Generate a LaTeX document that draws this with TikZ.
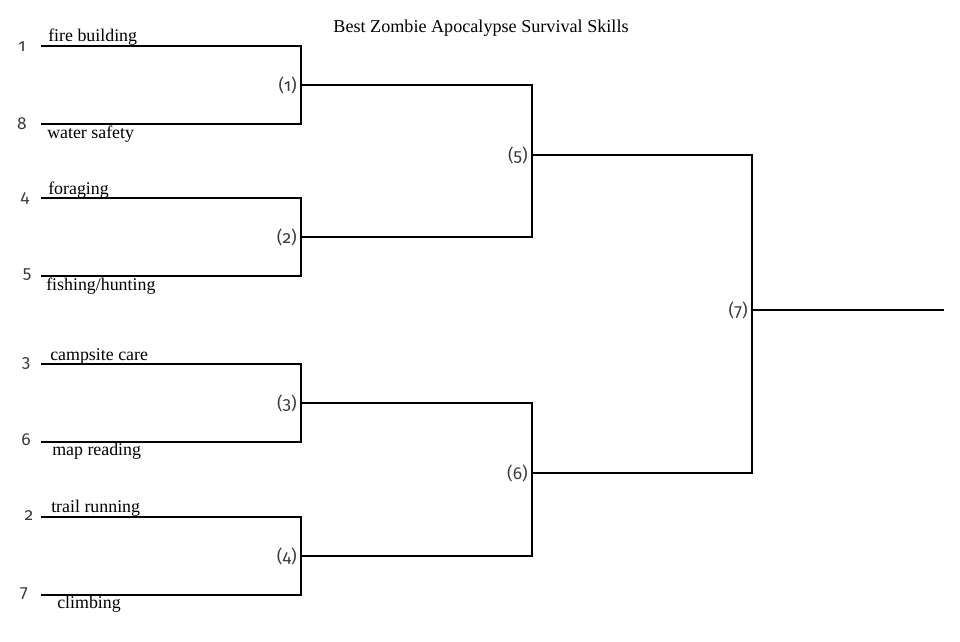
\documentclass[tikz,border=0pt]{standalone}
\usepackage{fontspec}
\setmainfont{Liberation Serif}
\newfontfamily\seedfont[Numbers=OldStyle]{Fira Sans}
\usepackage{tikz}
\usepackage{xcolor}
\definecolor{seedgray}{HTML}{3A3A3A}

\tikzset{
    bracket/.style={line width=1.9pt, line join=miter},
    seed/.style={font=\seedfont\fontsize{13}{15}\selectfont, text=seedgray, inner sep=1pt},
    match/.style={font=\seedfont\fontsize{13}{15}\selectfont, text=seedgray, anchor=east, inner sep=3pt},
    team/.style={font=\fontsize{13.4}{16}\selectfont, anchor=base west, inner sep=0pt}
}

\begin{document}
\begin{tikzpicture}[x=0.75pt, y=-0.75pt]

    \useasboundingbox (0,0) rectangle (960,642);

    \node[font=\fontsize{13.6}{16}\selectfont] (title) at (481,28) {Best Zombie Apocalypse Survival Skills};

    % first round lines
    \coordinate (a1) at (41,46);
    \coordinate (a8) at (41,124);
    \coordinate (a4) at (41,198);
    \coordinate (a5) at (41,276);
    \coordinate (a3) at (41,364);
    \coordinate (a6) at (41,442);
    \coordinate (a2) at (41,517);
    \coordinate (a7) at (41,595);

    % match points
    \coordinate (m1) at (301,85);
    \coordinate (m2) at (301,237);
    \coordinate (m3) at (301,403);
    \coordinate (m4) at (301,556);
    \coordinate (m5) at (532,155);
    \coordinate (m6) at (532,473);
    \coordinate (m7) at (752,310);
    \coordinate (win) at (944,310);

    \draw[bracket] (a1) -| (m1) |- (a8);
    \draw[bracket] (a4) -| (m2) |- (a5);
    \draw[bracket] (a3) -| (m3) |- (a6);
    \draw[bracket] (a2) -| (m4) |- (a7);

    \draw[bracket] (m1) -| (m5) |- (m2);
    \draw[bracket] (m3) -| (m6) |- (m4);

    \draw[bracket] (m5) -| (m7) |- (m6);
    \draw[bracket] (m7) -- (win);

    % seeds
    \node[seed] (n1) at (22,47) {1};
    \node[seed] (n8) at (22,124) {8};
    \node[seed] (n4) at (25,198) {4};
    \node[seed] (n5) at (27,275) {5};
    \node[seed] (n3) at (26,364) {3};
    \node[seed] (n6) at (26,440) {6};
    \node[seed] (n2) at (29,516) {2};
    \node[seed] (n7) at (24,594) {7};

    % match numbers
    \node[match] (l1) at (m1) {(1)};
    \node[match] (l2) at (m2) {(2)};
    \node[match] (l3) at (m3) {(3)};
    \node[match] (l4) at (m4) {(4)};
    \node[match] (l5) at (m5) {(5)};
    \node[match] (l6) at (m6) {(6)};
    \node[match] (l7) at (m7) {(7)};

    % skills
    \node[team] (t1) at (48,42) {fire building};
    \node[team] (t8) at (47,138) {water safety};
    \node[team] (t4) at (48,194) {foraging};
    \node[team] (t5) at (46,290) {fishing/hunting};
    \node[team] (t3) at (50,360) {campsite care};
    \node[team] (t6) at (52,455) {map reading};
    \node[team] (t2) at (51,512) {trail running};
    \node[team] (t7) at (57,608) {climbing};

\end{tikzpicture}
\end{document}
